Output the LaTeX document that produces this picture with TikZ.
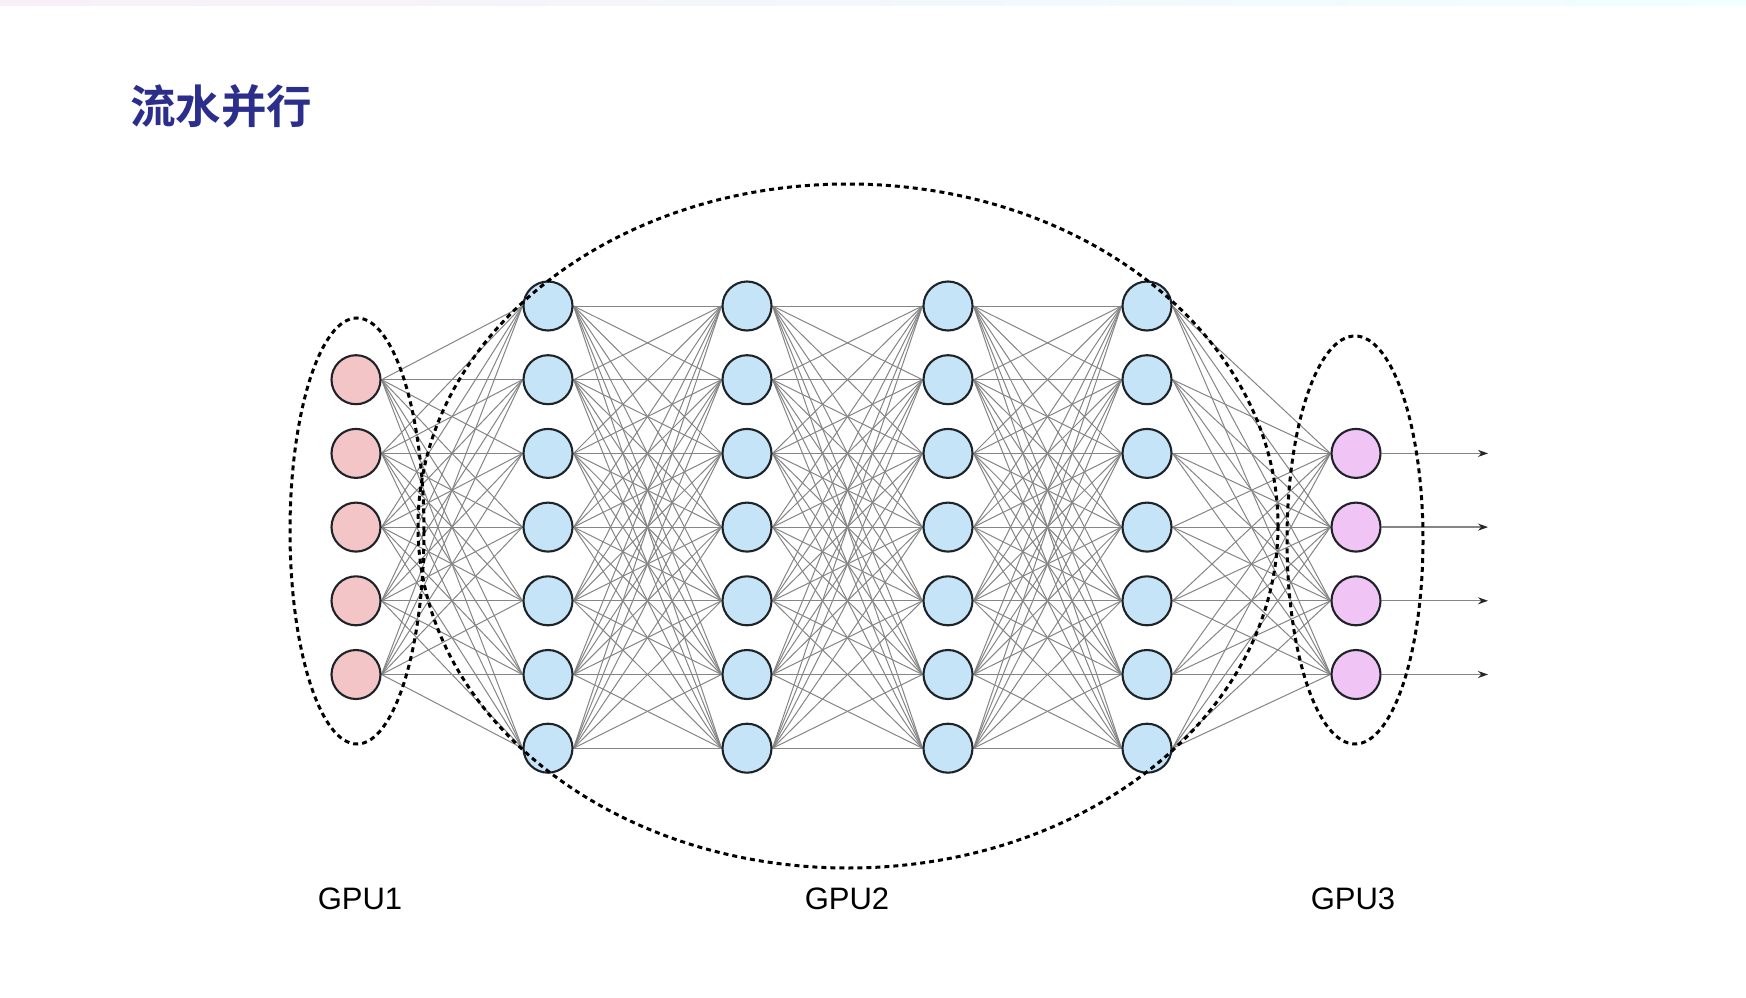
\documentclass[tikz,border=0pt]{standalone}
\usepackage{fontspec}
\setmainfont{Liberation Sans}
\newfontfamily\cjk{Noto Sans CJK SC}[BoldFont={Noto Sans CJK SC Bold}]
\usetikzlibrary{arrows.meta}
\pgfdeclarelayer{paper}
\pgfdeclarelayer{background}
\pgfsetlayers{paper,background,main}
\definecolor{titleblue}{HTML}{2B2E8A}
\definecolor{redfill}{HTML}{F4C5C7}
\definecolor{bluefill}{HTML}{C5E4F8}
\definecolor{pinkfill}{HTML}{F0C4F5}
\definecolor{outline}{HTML}{1E2328}
\definecolor{edgegray}{HTML}{858585}
\tikzset{
  neuron/.style={circle, draw=outline, line width=2.1pt, minimum size=49pt, inner sep=0pt},
  rn/.style={neuron, fill=redfill},
  bn/.style={neuron, fill=bluefill},
  pn/.style={neuron, fill=pinkfill},
  link/.style={draw=edgegray, line width=1pt},
  outarrow/.style={draw=edgegray, line width=1.3pt, -{Stealth[length=10pt,width=7pt,color=black!85]}},
  group/.style={draw=black, line width=3pt, dash pattern=on 5pt off 4pt},
  gpulabel/.style={font=\fontsize{31}{36}\selectfont, inner sep=0pt}
}
\begin{document}
\begin{tikzpicture}[x=1pt,y=-1pt]
\useasboundingbox (0,0) rectangle (1746,998);
\begin{pgfonlayer}{paper}
\fill[white] (0,0) rectangle (1746,998);
\shade[left color=violet!6, right color=cyan!6] (0,0) rectangle (1746,6);
\end{pgfonlayer}
% title
\node[anchor=west, inner sep=0pt, text=titleblue, font=\cjk\bfseries\fontsize{45.5}{50}\selectfont] (title) at (130,106) {流水并行};
% nodes
\foreach \i in {1,...,5} {
  \node[rn] (r\i) at (356,{306+73.7*\i}) {};
}
\foreach \c/\x in {1/548,2/747,3/948,4/1147} {
  \foreach \i in {0,...,6} {
    \node[bn] (b\c-\i) at (\x,{306+73.7*\i}) {};
  }
}
\foreach \i in {2,...,5} {
  \node[pn] (p\i) at (1356,{306+73.7*\i}) {};
  \coordinate (o\i) at (1488,{306+73.7*\i});
}
% connections
\begin{pgfonlayer}{background}
\foreach \i in {1,...,5} {
  \foreach \j in {0,...,6} { \draw[link] (r\i.east) -- (b1-\j.west); }
}
\foreach \c/\d in {1/2,2/3,3/4} {
  \foreach \i in {0,...,6} {
    \foreach \j in {0,...,6} { \draw[link] (b\c-\i.east) -- (b\d-\j.west); }
  }
}
\foreach \i in {0,...,6} {
  \foreach \j in {2,...,5} { \draw[link] (b4-\i.east) -- (p\j.west); }
}
\end{pgfonlayer}
\foreach \i in {2,...,5} { \draw[outarrow] (p\i.east) -- (o\i); }
% GPU groups
\draw[group] (357,531) ellipse [x radius=67, y radius=213];
\draw[group] (848,526) ellipse [x radius=430, y radius=342];
\draw[group] (1355,540) ellipse [x radius=68, y radius=204];
% labels
\node[gpulabel] (g1) at (360,899) {GPU1};
\node[gpulabel] (g2) at (847,899) {GPU2};
\node[gpulabel] (g3) at (1353,899) {GPU3};
\end{tikzpicture}
\end{document}
